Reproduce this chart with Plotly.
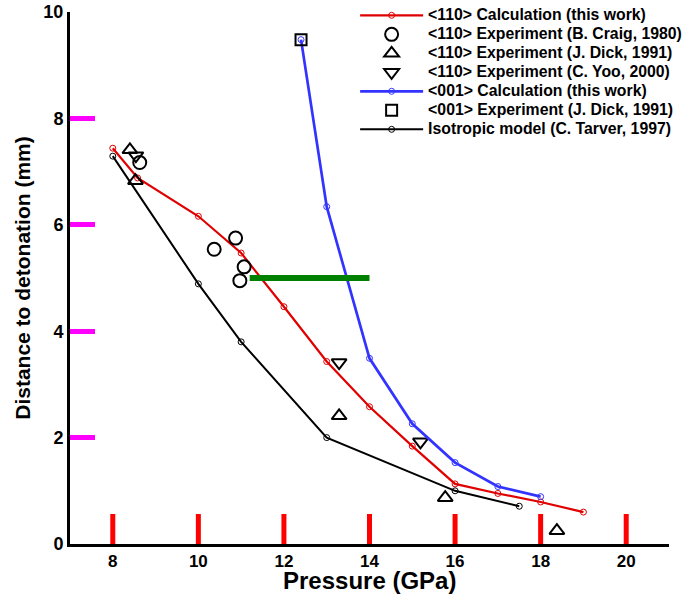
import plotly.graph_objects as go

# <110> calculation (this work)
calc110_p = [8.0, 8.58, 10.0, 11.0, 12.0, 13.0, 14.0, 15.0, 16.0, 17.0, 18.0, 19.0]
calc110_d = [7.44, 6.88, 6.16, 5.47, 4.46, 3.43, 2.58, 1.84, 1.13, 0.95, 0.79, 0.60]

# <001> calculation (this work)
calc001_p = [12.4, 13.0, 14.0, 15.0, 16.0, 17.0, 18.0]
calc001_d = [9.48, 6.34, 3.49, 2.26, 1.53, 1.08, 0.89]

# Isotropic model (C. Tarver, 1997)
iso_p = [8.0, 10.0, 11.0, 13.0, 16.0, 17.5]
iso_d = [7.29, 4.89, 3.80, 2.00, 1.00, 0.71]

# <110> experiments
craig_p = [8.63, 10.37, 10.87, 11.07, 10.97]
craig_d = [7.17, 5.54, 5.75, 5.21, 4.95]
dick110_p = [8.40, 8.53, 13.29, 15.77, 18.38]
dick110_d = [7.41, 6.83, 2.41, 0.87, 0.25]
yoo_p = [8.54, 13.29, 15.19]
yoo_d = [7.30, 3.41, 1.92]

# <001> experiment
dick001_p = [12.4]
dick001_d = [9.48]

# axis ticks
x_major = [8, 10, 12, 14, 16, 18, 20]
y_major = [0, 2, 4, 6, 8, 10]

FONT = "Liberation Sans, Arial, sans-serif"
RED = "#e00000"
BLUE = "#3333ff"
X_RANGE = [7, 21]
Y_RANGE = [0, 10]
LEGEND_PX = 15.8

WIDTH, HEIGHT = 685, 599
MARGIN = dict(l=70, r=16, t=12, b=55)
PLOT_W = WIDTH - MARGIN["l"] - MARGIN["r"]
PLOT_H = HEIGHT - MARGIN["t"] - MARGIN["b"]
X_PER_PX = (X_RANGE[1] - X_RANGE[0]) / PLOT_W
Y_PER_PX = (Y_RANGE[1] - Y_RANGE[0]) / PLOT_H

fig = go.Figure()


def label(text):
    return f'<span style="font-size:{LEGEND_PX}px"><b>{text}</b></span>'


def calc_line(x, y, name, color, width):
    return go.Scatter(
        x=x, y=y, name=label(name), mode="lines+markers",
        line=dict(color=color, width=width),
        marker=dict(symbol="circle-open", size=6, color=color, line=dict(width=1)),
    )


def exp_points(x, y, name, symbol, size=12):
    return go.Scatter(
        x=x, y=y, name=label(name), mode="markers",
        marker=dict(symbol=symbol, size=size, color="black", line=dict(width=2, color="black")),
    )


def tick_trace(x_vals, length_px, width, color):
    xs, ys = [], []
    for v in x_vals:
        xs += [v, v, None]
        ys += [Y_RANGE[0], Y_RANGE[0] + length_px * Y_PER_PX, None]
    return go.Scatter(x=xs, y=ys, mode="lines", line=dict(color=color, width=width),
                      showlegend=False, hoverinfo="skip")


fig.add_trace(tick_trace(x_major, 30, 5, "red"))

fig.add_trace(calc_line(calc110_p, calc110_d, "&lt;110&gt; Calculation (this work)", RED, 2.2))
fig.add_trace(exp_points(craig_p, craig_d, "&lt;110&gt; Experiment (B. Craig, 1980)", "circle-open", 13))
fig.add_trace(exp_points(dick110_p, dick110_d, "&lt;110&gt; Experiment (J. Dick, 1991)", "triangle-up-open", 13))
fig.add_trace(exp_points(yoo_p, yoo_d, "&lt;110&gt; Experiment (C. Yoo, 2000)", "triangle-down-open", 13))
fig.add_trace(calc_line(calc001_p, calc001_d, "&lt;001&gt; Calculation (this work)", BLUE, 2.7))
fig.add_trace(exp_points(dick001_p, dick001_d, "&lt;001&gt; Experiment (J. Dick, 1991)", "square-open", 11))
fig.add_trace(calc_line(iso_p, iso_d, "Isotropic model (C. Tarver, 1997)", "black", 2))

fig.update_layout(
    xaxis=dict(
        range=X_RANGE, tickvals=x_major, ticktext=[f"<b>{v}</b>" for v in x_major],
        tickfont=dict(family=FONT, size=17, color="black"),
        showline=True, linecolor="black", linewidth=3, ticks="",
        showgrid=False, zeroline=False,
    ),
    yaxis=dict(
        range=Y_RANGE, tickvals=y_major, ticktext=[f"<b>{v}</b>" for v in y_major],
        tickfont=dict(family=FONT, size=18, color="black"),
        title=dict(text="<b>Distance to detonation (mm)</b>",
                   font=dict(family=FONT, size=21, color="black"), standoff=8),
        showline=True, linecolor="black", linewidth=3,
        ticks="inside", ticklen=25, tickwidth=5, tickcolor="magenta",
        showgrid=False, zeroline=False,
    ),
)

fig.add_shape(type="line", xref="paper", yref="paper", x0=0.3, x1=0.5, y0=0.5, y1=0.5,
              line=dict(color="green", width=6))

fig.add_annotation(
    text="<b>Pressure (GPa)</b>", xref="paper", yref="paper", x=0.5, y=-0.069,
    xanchor="center", yanchor="middle", showarrow=False,
    font=dict(family=FONT, size=24, color="black"),
)

fig.update_layout(
    width=WIDTH, height=HEIGHT,
    margin=dict(**MARGIN, autoexpand=False),
    paper_bgcolor="white", plot_bgcolor="white",
    showlegend=True,
    legend=dict(
        x=0.476, y=1.021, xanchor="left", yanchor="top",
        bgcolor="rgba(0,0,0,0)", borderwidth=0,
        font=dict(family=FONT, size=12, color="black"),
        tracegroupgap=0, itemwidth=63,
    ),
)

fig.write_html("out.html")
